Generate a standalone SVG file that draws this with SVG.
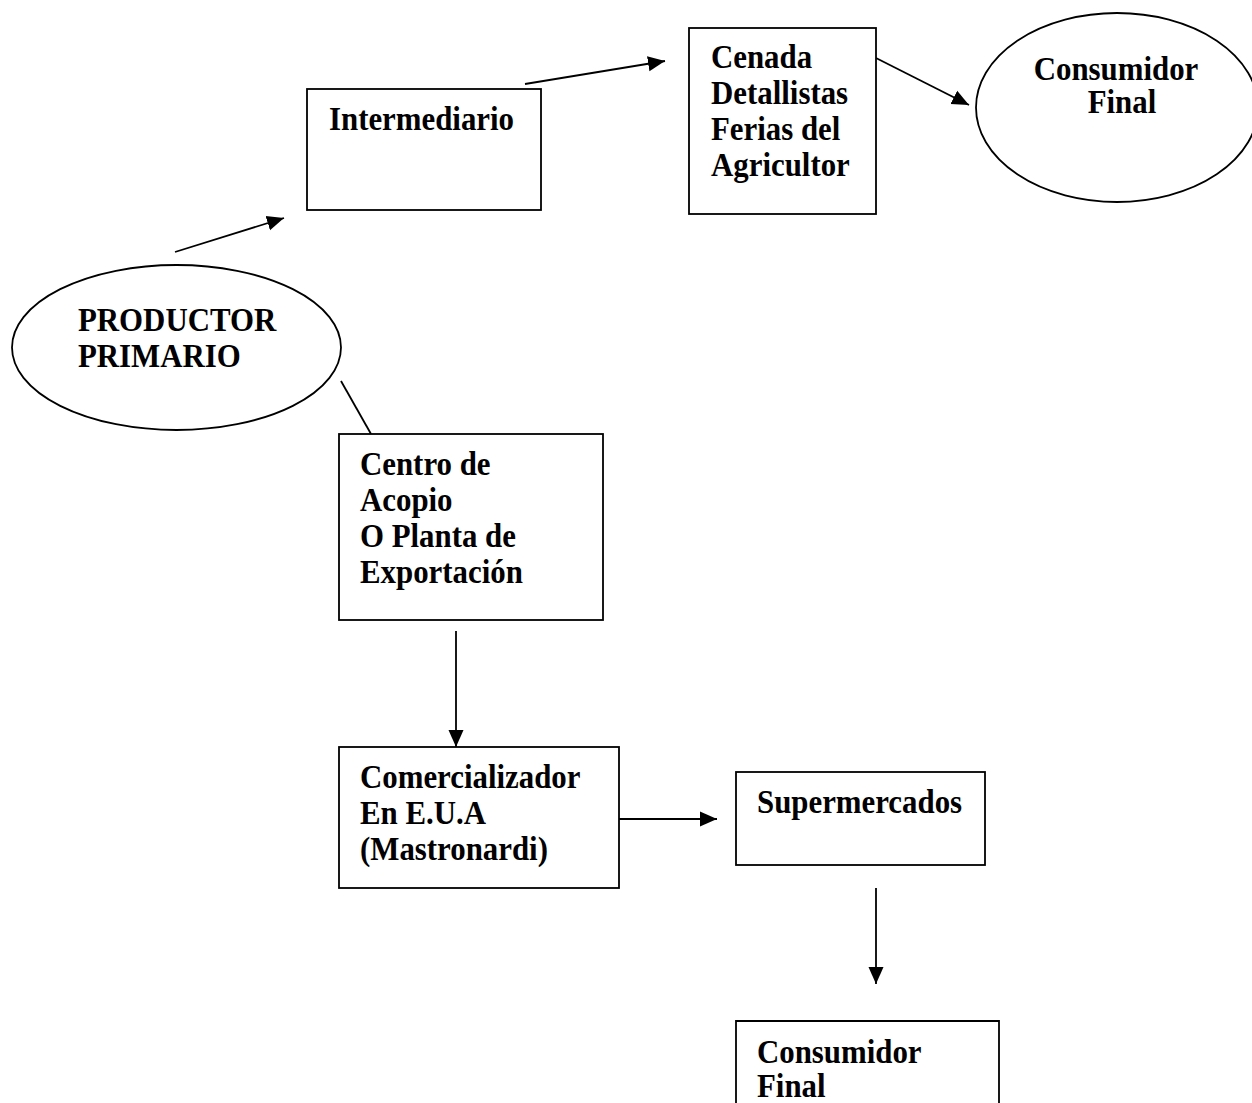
<svg xmlns="http://www.w3.org/2000/svg" width="1252" height="1103" viewBox="0 0 1252 1103">
<style>
.box{fill:#fff;stroke:#000;stroke-width:1.8}
.ell{fill:#fff;stroke:#000;stroke-width:1.8}
.t{font-family:"Liberation Serif","Times New Roman",serif;font-weight:bold;font-size:33px;fill:#000}
.c{stroke:#000;stroke-width:1.8;fill:none}
</style>
<defs>
<marker id="ah" markerUnits="userSpaceOnUse" markerWidth="19" markerHeight="16" refX="17" refY="8" orient="auto">
<path d="M0,0.5 L17,8 L0,15.5 Z" fill="#000"/>
</marker>
</defs>
<rect width="1252" height="1103" fill="#fff"/>
<g id="connectors">
<line class="c" x1="175" y1="252" x2="284" y2="218" marker-end="url(#ah)"/>
<line class="c" x1="525" y1="84" x2="665" y2="61" marker-end="url(#ah)"/>
<line class="c" x1="876" y1="58" x2="969" y2="105" marker-end="url(#ah)"/>
<line class="c" x1="341" y1="381" x2="371" y2="434"/>
<line class="c" x1="456" y1="631" x2="456" y2="747" marker-end="url(#ah)"/>
<line class="c" x1="619" y1="819" x2="717" y2="819" marker-end="url(#ah)"/>
<line class="c" x1="876" y1="888" x2="876" y2="984" marker-end="url(#ah)"/>
</g>
<g id="intermediario">
<rect class="box" x="307" y="89" width="234" height="121"/>
<text class="t" transform="translate(329,130) scale(0.935,1)">Intermediario</text>
</g>
<g id="cenada">
<rect class="box" x="689" y="28" width="187" height="186"/>
<text class="t" transform="translate(711,68) scale(0.935,1)">Cenada</text>
<text class="t" transform="translate(711,104) scale(0.935,1)">Detallistas</text>
<text class="t" transform="translate(711,140) scale(0.935,1)">Ferias del</text>
<text class="t" transform="translate(711,176) scale(0.935,1)">Agricultor</text>
</g>
<g id="consumidor-final-1">
<ellipse class="ell" cx="1117" cy="107.5" rx="141" ry="94.5"/>
<text class="t" text-anchor="middle" transform="translate(1116,80) scale(0.935,1)">Consumidor</text>
<text class="t" text-anchor="middle" transform="translate(1122,113) scale(0.935,1)">Final</text>
</g>
<g id="productor">
<ellipse class="ell" cx="176.5" cy="347.5" rx="164.5" ry="82.5"/>
<text class="t" transform="translate(78,331) scale(0.935,1)">PRODUCTOR</text>
<text class="t" transform="translate(78,367) scale(0.935,1)">PRIMARIO</text>
</g>
<g id="centro-acopio">
<rect class="box" x="339" y="434" width="264" height="186"/>
<text class="t" transform="translate(360,475) scale(0.935,1)">Centro de</text>
<text class="t" transform="translate(360,511) scale(0.935,1)">Acopio</text>
<text class="t" transform="translate(360,547) scale(0.935,1)">O Planta de</text>
<text class="t" transform="translate(360,583) scale(0.935,1)">Exportación</text>
</g>
<g id="comercializador">
<rect class="box" x="339" y="747" width="280" height="141"/>
<text class="t" transform="translate(360,788) scale(0.935,1)">Comercializador</text>
<text class="t" transform="translate(360,824) scale(0.935,1)">En E.U.A</text>
<text class="t" transform="translate(360,860) scale(0.935,1)">(Mastronardi)</text>
</g>
<g id="supermercados">
<rect class="box" x="736" y="772" width="249" height="93"/>
<text class="t" transform="translate(757,813) scale(0.935,1)">Supermercados</text>
</g>
<g id="consumidor-final-2">
<path class="c" d="M736,1110 L736,1021 L999,1021 L999,1110"/>
<text class="t" transform="translate(757,1063) scale(0.935,1)">Consumidor</text>
<text class="t" transform="translate(757,1097) scale(0.935,1)">Final</text>
</g>
</svg>
